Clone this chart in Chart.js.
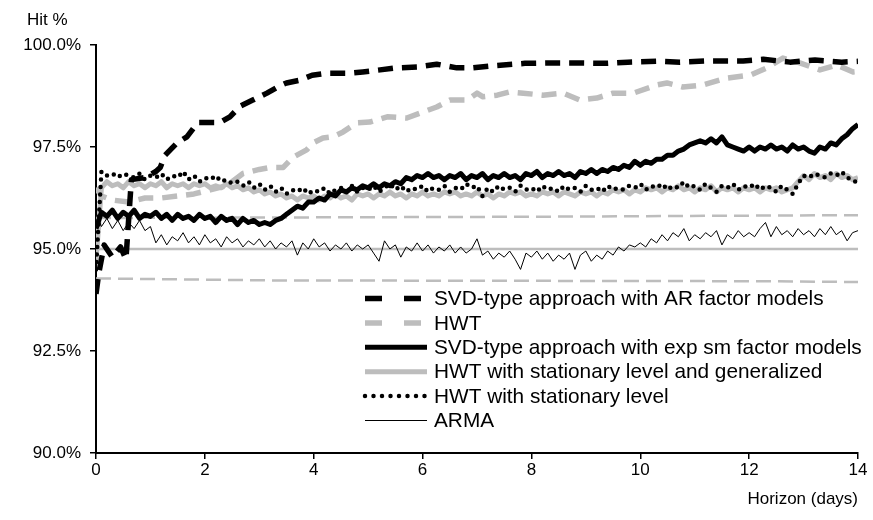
<!DOCTYPE html>
<html><head><meta charset="utf-8">
<script src="https://cdn.jsdelivr.net/npm/chart.js@4.4.1/dist/chart.umd.min.js"></script>
<style>html,body{margin:0;padding:0;background:#fff;}</style>
</head><body>
<canvas id="c" width="873" height="520"></canvas>
<script>
// ---------- data ----------
const seriesLabels = [
  'SVD-type approach with AR factor models',
  'HWT',
  'SVD-type approach with exp sm factor models',
  'HWT with stationary level and generalized',
  'HWT with stationary level',
  'ARMA'
];
const yTickLabels = ['90.0%', '92.5%', '95.0%', '97.5%', '100.0%'];
const xTickLabels = ['0', '2', '4', '6', '8', '10', '12', '14'];

// horizon grid (days) for the densely sampled series
const horizonGrid = [
  0,0.1,0.2,0.3,0.4,0.5,0.6,0.7,0.8,0.9,
  1,1.1,1.2,1.3,1.4,1.5,1.6,1.7,1.8,1.9,
  2,2.1,2.2,2.3,2.4,2.5,2.6,2.7,2.8,2.9,
  3,3.1,3.2,3.3,3.4,3.5,3.6,3.7,3.8,3.9,
  4,4.1,4.2,4.3,4.4,4.5,4.6,4.7,4.8,4.9,
  5,5.1,5.2,5.3,5.4,5.5,5.6,5.7,5.8,5.9,
  6,6.1,6.2,6.3,6.4,6.5,6.6,6.7,6.8,6.9,
  7,7.1,7.2,7.3,7.4,7.5,7.6,7.7,7.8,7.9,
  8,8.1,8.2,8.3,8.4,8.5,8.6,8.7,8.8,8.9,
  9,9.1,9.2,9.3,9.4,9.5,9.6,9.7,9.8,9.9,
  10,10.1,10.2,10.3,10.4,10.5,10.6,10.7,10.8,10.9,
  11,11.1,11.2,11.3,11.4,11.5,11.6,11.7,11.8,11.9,
  12,12.1,12.2,12.3,12.4,12.5,12.6,12.7,12.8,12.9,
  13,13.1,13.2,13.3,13.4,13.5,13.6,13.7,13.8,13.9,
  14
];

// SVD-type approach with AR factor models
const svdArX = [0,0.05,0.15,0.3,0.45,0.55,0.65,0.9,1.1,1.18,1.27,1.49,1.67,1.87,2.06,2.28,2.46,2.65,2.88,3.14,3.38,3.5,3.75,3.97,4.24,4.67,4.9,5.22,5.53,5.9,6.26,6.63,6.93,7.37,7.88,8.38,8.84,9.39,9.77,10.3,10.73,11.22,11.59,11.89,12.26,12.75,13.21,13.7,14];
const svdArY = [93.9,94.4,95.1,94.8,95.05,94.75,96.7,96.75,96.9,97.0,97.3,97.6,97.75,98.1,98.1,98.1,98.24,98.5,98.65,98.82,99.0,99.07,99.14,99.26,99.31,99.31,99.34,99.39,99.44,99.46,99.53,99.44,99.44,99.5,99.55,99.56,99.56,99.55,99.58,99.6,99.58,99.61,99.61,99.61,99.65,99.58,99.63,99.58,99.6];

// HWT
const hwtX = [0,0.1,0.3,0.6,0.9,1.2,1.5,1.8,2.1,2.4,2.7,3.0,3.2,3.44,3.62,3.87,3.99,4.17,4.35,4.54,4.79,5.03,5.35,5.71,5.95,6.26,6.5,6.82,7.0,7.11,7.37,7.6,7.85,8.21,8.58,8.89,9.2,9.5,9.87,10.3,10.49,10.78,11.15,11.59,12.02,12.33,12.62,12.93,13.3,13.61,13.91,14];
const hwtY = [96.5,96.3,96.2,96.15,96.25,96.25,96.3,96.35,96.45,96.55,96.85,96.95,97.0,97.0,97.25,97.43,97.6,97.72,97.75,97.87,98.09,98.11,98.24,98.21,98.33,98.48,98.65,98.65,98.82,98.73,98.77,98.85,98.82,98.77,98.82,98.65,98.7,98.82,98.82,99.02,99.07,98.97,99.02,99.19,99.26,99.44,99.68,99.56,99.39,99.51,99.34,99.35];

// SVD-type approach with exp sm factor models
const svdExpY = [
  95.5,95.9,95.8,95.95,95.75,95.9,95.8,95.95,95.75,95.85,
  95.8,95.9,95.75,95.85,95.7,95.85,95.75,95.8,95.7,95.85,
  95.75,95.8,95.65,95.8,95.7,95.75,95.6,95.75,95.65,95.7,
  95.6,95.65,95.6,95.7,95.75,95.85,95.95,96.05,96.0,96.15,
  96.15,96.25,96.2,96.35,96.3,96.45,96.4,96.5,96.45,96.55,
  96.5,96.6,96.5,96.6,96.55,96.65,96.6,96.75,96.7,96.8,
  96.75,96.85,96.75,96.8,96.7,96.8,96.75,96.85,96.7,96.8,
  96.75,96.85,96.7,96.8,96.75,96.85,96.75,96.8,96.7,96.85,
  96.8,96.9,96.75,96.85,96.8,96.9,96.8,96.85,96.75,96.9,
  96.85,96.95,96.85,96.95,96.9,97.0,96.95,97.05,97.0,97.15,
  97.05,97.15,97.1,97.2,97.2,97.3,97.3,97.4,97.45,97.55,
  97.6,97.65,97.6,97.7,97.6,97.75,97.55,97.5,97.45,97.4,
  97.5,97.4,97.5,97.45,97.55,97.45,97.5,97.4,97.55,97.45,
  97.5,97.4,97.35,97.5,97.45,97.6,97.55,97.7,97.8,97.95,
  98.05
];

// HWT with stationary level and generalized
const hwtStatGenY = [
  94.7,96.5,96.65,96.55,96.6,96.5,96.65,96.55,96.6,96.5,
  96.6,96.55,96.65,96.5,96.6,96.55,96.6,96.5,96.6,96.55,
  96.6,96.5,96.55,96.5,96.6,96.5,96.55,96.45,96.5,96.4,
  96.45,96.35,96.4,96.3,96.35,96.25,96.3,96.2,96.3,96.25,
  96.3,96.2,96.3,96.25,96.35,96.25,96.3,96.2,96.35,96.3,
  96.35,96.25,96.35,96.3,96.4,96.3,96.35,96.25,96.35,96.3,
  96.4,96.3,96.35,96.3,96.4,96.35,96.4,96.3,96.35,96.3,
  96.4,96.3,96.35,96.25,96.35,96.3,96.4,96.35,96.4,96.3,
  96.35,96.3,96.4,96.35,96.4,96.3,96.4,96.35,96.3,96.4,
  96.35,96.4,96.3,96.4,96.35,96.45,96.4,96.45,96.35,96.45,
  96.4,96.5,96.45,96.5,96.4,96.5,96.45,96.55,96.45,96.5,
  96.4,96.5,96.45,96.55,96.4,96.5,96.45,96.5,96.4,96.5,
  96.45,96.5,96.4,96.5,96.45,96.5,96.4,96.45,96.5,96.65,
  96.8,96.7,96.85,96.75,96.8,96.7,96.85,96.75,96.8,96.7,
  96.75
];

// HWT with stationary level
const hwtStatY = [
  94.5,96.9,96.8,96.85,96.75,96.85,96.8,96.75,96.85,96.7,
  96.8,96.75,96.85,96.7,96.8,96.75,96.9,96.7,96.8,96.65,
  96.75,96.7,96.8,96.65,96.7,96.6,96.65,96.55,96.65,96.5,
  96.6,96.45,96.55,96.4,96.5,96.35,96.45,96.4,96.5,96.35,
  96.45,96.4,96.5,96.35,96.45,96.5,96.4,96.55,96.4,96.5,
  96.45,96.55,96.4,96.5,96.6,96.45,96.55,96.4,96.5,96.45,
  96.55,96.4,96.5,96.45,96.55,96.4,96.5,96.45,96.6,96.5,
  96.55,96.3,96.5,96.4,96.55,96.45,96.5,96.4,96.55,96.45,
  96.5,96.4,96.55,96.45,96.5,96.4,96.55,96.45,96.5,96.4,
  96.55,96.45,96.5,96.4,96.55,96.45,96.5,96.45,96.55,96.5,
  96.6,96.45,96.55,96.5,96.6,96.45,96.55,96.5,96.65,96.5,
  96.55,96.45,96.6,96.5,96.4,96.55,96.5,96.6,96.45,96.55,
  96.5,96.6,96.45,96.55,96.5,96.4,96.55,96.45,96.35,96.6,
  96.8,96.75,96.85,96.8,96.75,96.85,96.8,96.9,96.75,96.7,
  96.6
];

// ARMA
const armaY = [
  95.9,95.55,95.75,95.5,95.7,95.45,95.65,95.5,95.7,95.45,
  95.55,95.15,95.35,95.1,95.3,95.2,95.4,95.15,95.3,95.1,
  95.35,95.15,95.25,95.05,95.3,95.15,95.25,95.05,95.2,95.1,
  95.25,95.05,95.2,95.0,95.15,95.05,95.2,94.85,95.15,95.0,
  95.25,95.05,95.15,94.95,95.1,95.0,95.15,94.95,95.1,95.0,
  95.1,94.9,94.7,95.2,95.0,95.1,94.8,95.05,94.95,95.15,
  94.95,95.1,94.9,95.05,94.95,95.1,94.9,95.05,94.9,95.0,
  95.25,94.85,94.95,94.75,94.9,94.8,94.95,94.75,94.5,94.9,
  94.8,94.95,94.75,94.9,94.7,94.85,94.75,94.9,94.5,94.85,
  94.95,94.7,94.85,94.75,94.95,94.85,95.05,94.95,95.1,95.05,
  95.15,95.05,95.25,95.15,95.35,95.2,95.4,95.3,95.5,95.2,
  95.35,95.25,95.4,95.3,95.45,95.1,95.35,95.25,95.45,95.3,
  95.4,95.3,95.5,95.65,95.3,95.55,95.35,95.45,95.3,95.5,
  95.35,95.45,95.3,95.5,95.35,95.55,95.35,95.45,95.2,95.4,
  95.45
];

// reference lines (nominal level and bounds)
const nominalX = [0, 14];
const nominalY = [95.0, 95.0];
const upperX = [0, 7.9, 12.4, 14];
const upperY = [95.76, 95.79, 95.82, 95.83];
const lowerX = [0, 3.2, 12.4, 14];
const lowerY = [94.28, 94.23, 94.21, 94.19];

// ---------- chart ----------
const FONT = "'Liberation Sans', Arial, Helvetica, sans-serif";
const BLACK = '#000000';
const GRAY = '#bdbdbd';
const pairs = (xs, ys) => xs.map((x, i) => ({ x: x, y: ys[i] }));

const datasets = [
  { label: seriesLabels[0], data: pairs(svdArX, svdArY), borderColor: BLACK, borderWidth: 5.5,
    borderDash: [15, 9], legendDash: [17, 22], order: 1 },
  { label: seriesLabels[1], data: pairs(hwtX, hwtY), borderColor: GRAY, borderWidth: 5.5,
    borderDash: [15, 9], legendDash: [17, 22], order: 5 },
  { label: seriesLabels[2], data: pairs(horizonGrid, svdExpY), borderColor: BLACK, borderWidth: 5,
    borderDash: [], legendDash: [], order: 3 },
  { label: seriesLabels[3], data: pairs(horizonGrid, hwtStatGenY), borderColor: GRAY, borderWidth: 5,
    borderDash: [], legendDash: [], order: 6 },
  { label: seriesLabels[4], data: pairs(horizonGrid, hwtStatY), borderColor: BLACK, borderWidth: 4.5,
    borderDash: [0, 7.5], borderCapStyle: 'round', legendDash: [0, 8.5], order: 2 },
  { label: seriesLabels[5], data: pairs(horizonGrid, armaY), borderColor: BLACK, borderWidth: 1,
    borderDash: [], legendDash: [], order: 4 },
  { label: 'nominal', data: pairs(nominalX, nominalY), borderColor: GRAY, borderWidth: 2.5,
    borderDash: [], hideInLegend: true, order: 9 },
  { label: 'upper', data: pairs(upperX, upperY), borderColor: GRAY, borderWidth: 2.5,
    borderDash: [15, 7], hideInLegend: true, order: 8 },
  { label: 'lower', data: pairs(lowerX, lowerY), borderColor: GRAY, borderWidth: 2.5,
    borderDash: [15, 7], hideInLegend: true, order: 7 }
];

const overlayPlugin = {
  id: 'overlay',
  afterDraw(chart) {
    const ctx = chart.ctx;
    const ca = chart.chartArea;
    ctx.save();
    // axis titles
    ctx.fillStyle = '#000';
    ctx.font = '17px ' + FONT;
    ctx.textBaseline = 'middle';
    ctx.textAlign = 'left';
    ctx.fillText('Hit %', 27, 20);
    ctx.textAlign = 'right';
    ctx.fillText('Horizon (days)', ca.right, 499);

    // legend
    const sx0 = 365, sx1 = 427, tx = 434, ry0 = 298.5, rdy = 24.4;
    ctx.font = '20.8px ' + FONT;
    ctx.textAlign = 'left';
    let row = 0;
    chart.data.datasets.forEach((ds) => {
      if (ds.hideInLegend) return;
      const y = ry0 + row * rdy;
      ctx.save();
      ctx.strokeStyle = ds.borderColor;
      ctx.lineWidth = ds.borderWidth;
      ctx.lineCap = ds.borderCapStyle || 'butt';
      ctx.setLineDash(ds.legendDash || []);
      ctx.beginPath();
      ctx.moveTo(sx0, y);
      ctx.lineTo(sx1, y);
      ctx.stroke();
      ctx.restore();
      ctx.fillStyle = '#000';
      ctx.fillText(ds.label, tx, y + 1);
      row++;
    });
    ctx.restore();
  }
};

new Chart(document.getElementById('c'), {
  type: 'line',
  data: { datasets: datasets },
  options: {
    responsive: false,
    animation: false,
    devicePixelRatio: 1,
    layout: { padding: { top: 45, right: 15, left: 0, bottom: 0 } },
    elements: { point: { radius: 0, hoverRadius: 0 }, line: { tension: 0, borderJoinStyle: 'round' } },
    plugins: { legend: { display: false }, tooltip: { enabled: false } },
    scales: {
      x: {
        type: 'linear', min: 0, max: 14,
        afterFit(scale) { scale.height = 67; },
        ticks: {
          stepSize: 2, color: '#000', font: { family: FONT, size: 17 }, padding: 1, maxRotation: 0,
          callback: (v, i) => xTickLabels[i]
        },
        grid: { drawOnChartArea: false, drawTicks: true, tickLength: 6, color: '#000', lineWidth: 1.5 },
        border: { display: true, color: '#000', width: 2 }
      },
      y: {
        min: 90, max: 100,
        afterFit(scale) { scale.width = 96; },
        ticks: {
          stepSize: 2.5, color: '#000', font: { family: FONT, size: 17 }, padding: 9,
          callback: (v, i) => yTickLabels[i]
        },
        grid: { drawOnChartArea: false, drawTicks: true, tickLength: 6, color: '#000', lineWidth: 1.5 },
        border: { display: true, color: '#000', width: 2 }
      }
    }
  },
  plugins: [overlayPlugin]
});
</script>
</body></html>
